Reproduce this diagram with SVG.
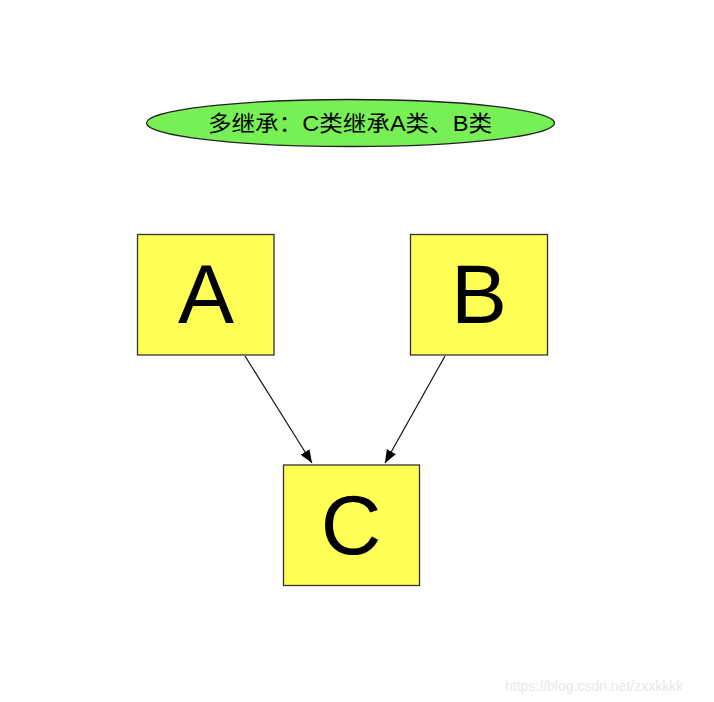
<svg xmlns="http://www.w3.org/2000/svg" width="714" height="702" viewBox="0 0 714 702">
<style>
.box{fill:#ffff55;stroke:#333;stroke-width:1.3}
.big{font-family:"Liberation Sans",Arial,sans-serif;font-size:84px;fill:#000;text-anchor:middle}
.edge{stroke:#111;stroke-width:1.2;fill:none;marker-end:url(#ah)}
</style>
<defs>
<marker id="ah" viewBox="0 0 10 10" refX="10" refY="5" markerWidth="13" markerHeight="13" markerUnits="userSpaceOnUse" orient="auto">
<path d="M0,1 L10,5 L0,9 Z" fill="#000"/>
</marker>
</defs>
<rect width="714" height="702" fill="#fff"/>
<g id="title">
<ellipse cx="350.5" cy="123" rx="204" ry="23.5" fill="#77f055" stroke="#222" stroke-width="1.3"/>
<text x="208" y="131" font-family="'Liberation Sans','Noto Sans CJK SC',sans-serif" font-size="22" textLength="284" lengthAdjust="spacingAndGlyphs" fill="#000">多继承：C类继承A类、B类</text>
</g>
<g id="connectors">
<line class="edge" x1="245" y1="356" x2="312" y2="463"/>
<line class="edge" x1="445" y1="356" x2="385" y2="463"/>
</g>
<g id="A">
<rect class="box" x="137.5" y="234.5" width="136.5" height="120.5"/>
<text class="big" x="206" y="323">A</text>
</g>
<g id="B">
<rect class="box" x="410.5" y="234.5" width="137" height="120.5"/>
<text class="big" x="479" y="323">B</text>
</g>
<g id="C">
<rect class="box" x="283.5" y="465" width="136" height="120.5"/>
<text class="big" x="351" y="554">C</text>
</g>
<text x="505" y="691" font-family="'Liberation Sans',Arial,sans-serif" font-size="14" fill="#e8e8e8">https://blog.csdn.net/zxxkkkk</text>
</svg>
